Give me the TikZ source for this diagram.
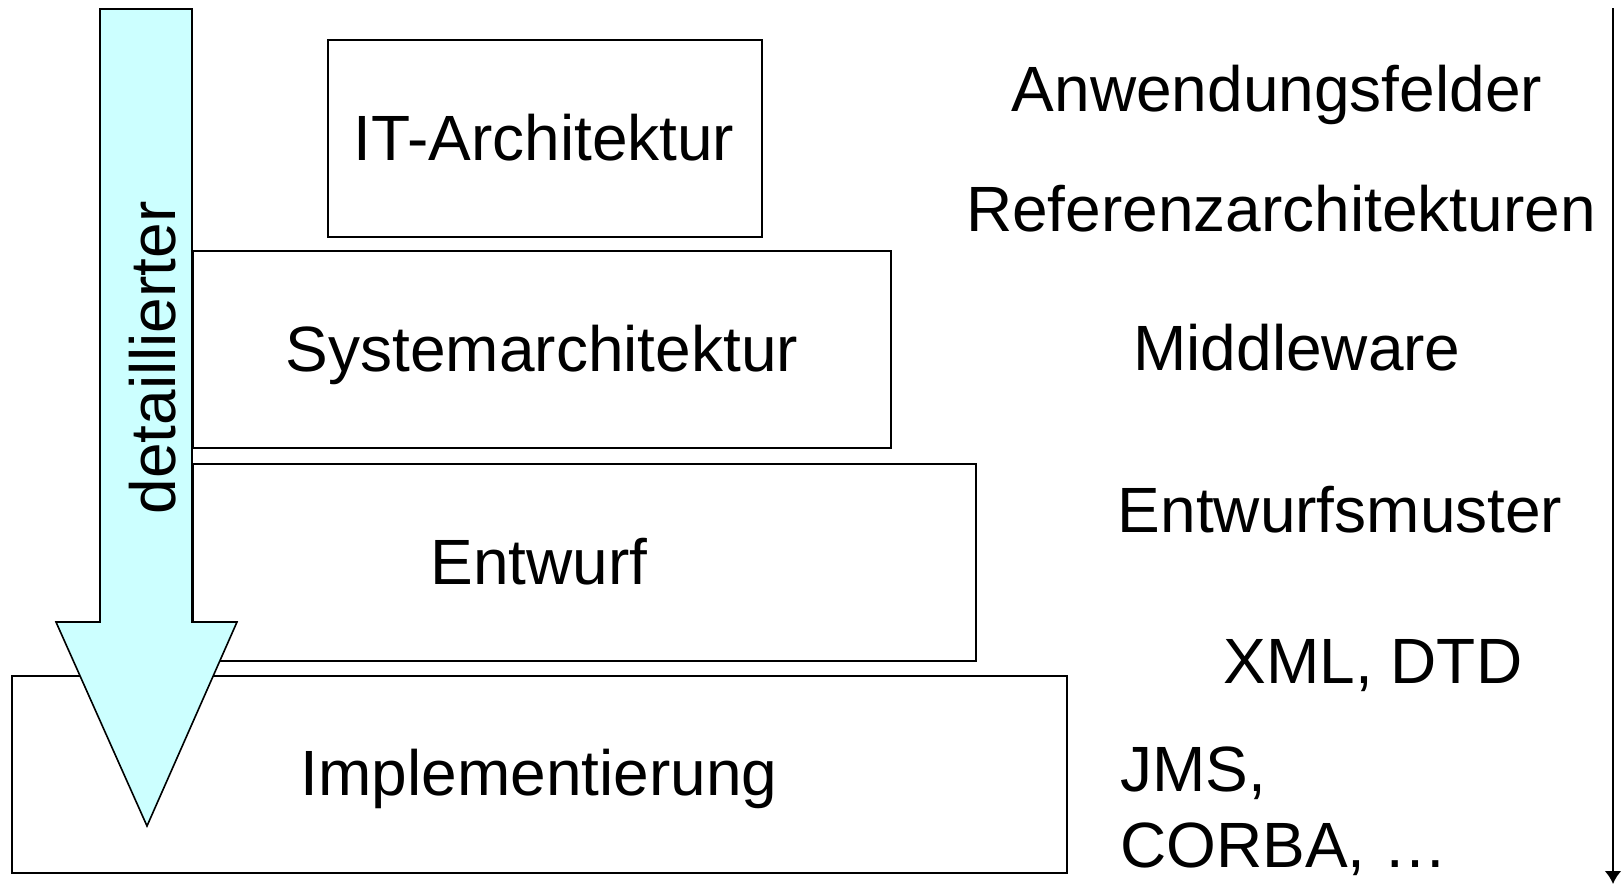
\documentclass[tikz,border=0pt]{standalone}
\usepackage{fontspec}
\setmainfont{Liberation Sans}
\usepackage{xcolor}
\usetikzlibrary{arrows.meta}
\definecolor{lightcyan}{HTML}{CCFFFF}

\begin{document}
\begin{tikzpicture}[x=0.5pt, y=-0.5pt, >=Latex, font=\fontsize{32}{38}\selectfont,
	layer/.style={draw, line width=0.8pt, inner sep=0pt, anchor=north west},
	tool/.style={inner sep=0pt}]
		\useasboundingbox (0,0) rectangle (1623,884);
		% boxes
		\node[layer, minimum width=217pt, minimum height=98.5pt] (itbox) at (327,39) {};
		\node[layer, minimum width=349pt, minimum height=98.5pt] (sysbox) at (192,250) {};
		\node[layer, minimum width=391.5pt, minimum height=98.5pt] (entbox) at (192,463) {};
		\node[layer, minimum width=527.5pt, minimum height=98.5pt] (implbox) at (11,675) {};
		\node (itlab) at (544,138) {IT-Architektur};
		\node (syslab) at (542,355) {Systemarchitektur};
		\node (entlab) at (539,562) {Entwurf};
		\node (impllab) at (539,779) {Implementierung};
		% big arrow
		\draw[line width=0.8pt, fill=lightcyan, line join=miter]
			(100,9) -- (192,9) -- (192,622) -- (237,622) -- (147,826)
			-- (56,622) -- (100,622) -- cycle;
		\node[rotate=90] (detail) at (153,358) {detaillierter};
		% right column
		\node[tool] (anw) at (1277,95) {Anwendungsfelder};
		\node[tool] (ref) at (1281,209) {Referenzarchitekturen};
		\node[tool] (mid) at (1297,348) {Middleware};
		\node[tool] (muster) at (1340,510) {Entwurfsmuster};
		\node[tool] (xml) at (1373,666) {XML, DTD};
		\node[tool, anchor=west] (jms) at (1120,773) {JMS,};
		\node[tool, anchor=west] (corba) at (1120,849) {CORBA, …};
		\coordinate (top) at (1613,8);
		\coordinate (bottom) at (1613,884);
		\draw[->, line width=1.2pt, -{Latex[length=6.5pt,width=8.5pt]}] (top) -- (bottom);
	\end{tikzpicture}
\end{document}
